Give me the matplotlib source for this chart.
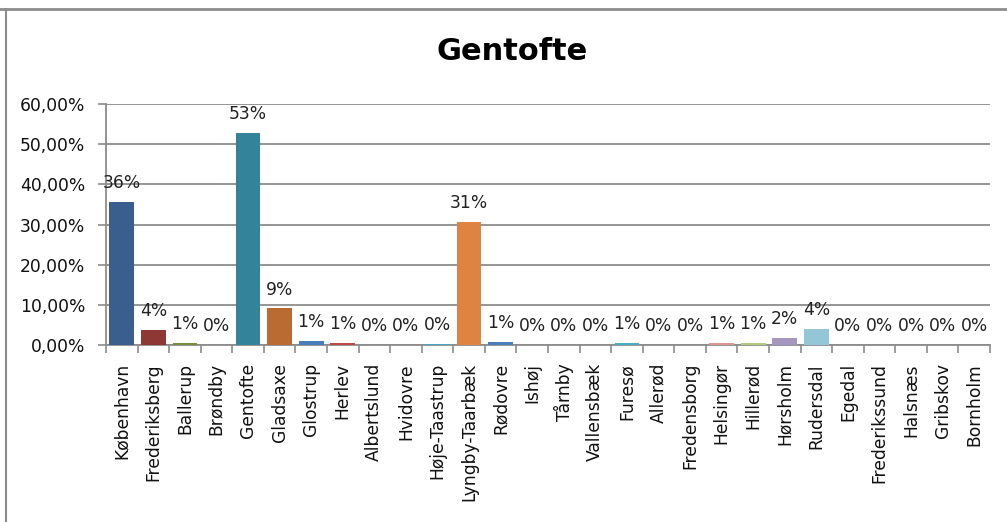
import matplotlib
matplotlib.use("Agg")
import matplotlib.pyplot as plt
from matplotlib.lines import Line2D
from matplotlib.ticker import FixedLocator, FuncFormatter

plt.rcParams['font.family'] = ['DejaVu Sans']

municipalities = ["København", "Frederiksberg", "Ballerup", "Brøndby", "Gentofte", "Gladsaxe",
                  "Glostrup", "Herlev", "Albertslund", "Hvidovre", "Høje-Taastrup", "Lyngby-Taarbæk",
                  "Rødovre", "Ishøj", "Tårnby", "Vallensbæk", "Furesø", "Allerød",
                  "Fredensborg", "Helsingør", "Hillerød", "Hørsholm", "Rudersdal", "Egedal",
                  "Frederikssund", "Halsnæs", "Gribskov", "Bornholm"]
shares = [0.357, 0.037, 0.006, 0.0, 0.528, 0.091,
          0.010, 0.006, 0.0, 0.0, 0.003, 0.307,
          0.008, 0.0, 0.0, 0.0, 0.006, 0.0,
          0.0, 0.0055, 0.006, 0.017, 0.040, 0.0,
          0.0, 0.0, 0.0, 0.0]
bar_colors = ["#3A5F8E", "#8E3836", "#74903F", "#5C4776", "#33849B", "#B96B31",
              "#4A7EBB", "#BE4B48", "#98B954", "#7D60A0", "#46AAC5", "#DE8341",
              "#4A7EBB", "#BE4B48", "#98B954", "#7D60A0", "#4BACC6", "#F79646",
              "#95B3D7", "#D99694", "#B3CC82", "#A597C0", "#93C7D8", "#F9B78A",
              "#B9CDE5", "#E6B9B8", "#D7E4BD", "#CCC1DA"]
title = "Gentofte"
yticks = [0.0, 0.1, 0.2, 0.3, 0.4, 0.5, 0.6]

fig = plt.figure(figsize=(10.07, 5.22), dpi=100)
ax = fig.add_axes([106/1007, 1 - 345/522, (990-106)/1007, (345-104)/522])

x = list(range(len(municipalities)))
ax.bar(x, shares, width=0.78, color=bar_colors, zorder=3)

for xi, v in zip(x, shares):
    ax.annotate(f"{round(v*100):.0f}%", (xi, v), xytext=(0, 7), textcoords="offset points",
                ha="center", va="bottom", fontsize=12.3, color="#222222")

ax.set_xlim(-0.5, len(municipalities) - 0.5)
ax.set_ylim(0, 0.6)
ax.set_yticks(yticks)
ax.yaxis.set_major_formatter(FuncFormatter(lambda v, p: f"{v*100:.2f}".replace(".", ",") + "%"))
ax.grid(axis="y", color="#8C8C8C", linewidth=1.3, zorder=0)

ax.set_xticks(x)
ax.set_xticklabels(municipalities, rotation=90, fontsize=12.3, color="#111111")
ax.tick_params(axis="x", which="major", length=0, pad=13)
ax.xaxis.set_minor_locator(FixedLocator([i - 0.5 for i in range(len(municipalities) + 1)]))
ax.tick_params(axis="x", which="minor", length=6, color="#8C8C8C", width=1.2)
ax.tick_params(axis="y", length=6, color="#8C8C8C", width=1.2, labelsize=12.3, labelcolor="#111111", pad=9)

for s in ["top", "right"]:
    ax.spines[s].set_visible(False)
for s in ["left", "bottom"]:
    ax.spines[s].set_color("#8C8C8C")
    ax.spines[s].set_linewidth(1.3)

fig.text(512/1007, 1 - 51/522, title, ha="center", va="center", fontsize=22, fontweight="bold")

fig.add_artist(Line2D([0, 1], [1 - 9/522, 1 - 9/522], transform=fig.transFigure, color="#8C8C8C", linewidth=2))
fig.add_artist(Line2D([6/1007, 6/1007], [0, 1 - 9/522], transform=fig.transFigure, color="#8C8C8C", linewidth=1.5))

fig.savefig("out.png", dpi=100)
